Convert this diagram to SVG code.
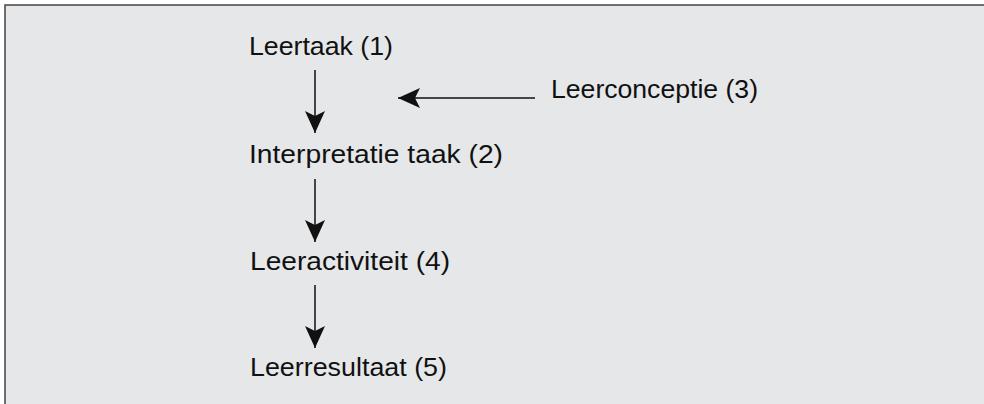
<svg xmlns="http://www.w3.org/2000/svg" width="984" height="404" viewBox="0 0 984 404">
<style>
.lbl{font-family:"Liberation Sans",Arial,sans-serif;font-size:26px;fill:#111}
.conn line{stroke:#111;stroke-width:1.5}
</style>
<defs>
<marker id="ah" viewBox="0 0 22 20" refX="22" refY="10" markerWidth="22" markerHeight="20" markerUnits="userSpaceOnUse" orient="auto">
<path d="M0,0 L22,10 L0,20 L5,10 Z" fill="#111"/>
</marker>
</defs>
<rect x="0" y="0" width="984" height="404" fill="#ffffff"/>
<rect x="5" y="5" width="990" height="410" fill="#e6e7e9" stroke="#444" stroke-width="1.5"/>
<g id="n1"><text class="lbl" x="249" y="55" textLength="144" lengthAdjust="spacingAndGlyphs">Leertaak (1)</text></g>
<g id="n2"><text class="lbl" x="249" y="163" textLength="254" lengthAdjust="spacingAndGlyphs">Interpretatie taak (2)</text></g>
<g id="n3"><text class="lbl" x="551" y="98" textLength="207" lengthAdjust="spacingAndGlyphs">Leerconceptie (3)</text></g>
<g id="n4"><text class="lbl" x="250" y="270" textLength="200" lengthAdjust="spacingAndGlyphs">Leeractiviteit (4)</text></g>
<g id="n5"><text class="lbl" x="250" y="376" textLength="197" lengthAdjust="spacingAndGlyphs">Leerresultaat (5)</text></g>
<g id="connectors" class="conn">
<line x1="315" y1="70" x2="315" y2="133" marker-end="url(#ah)"/>
<line x1="315" y1="179" x2="315" y2="242" marker-end="url(#ah)"/>
<line x1="315" y1="285" x2="315" y2="348" marker-end="url(#ah)"/>
<line x1="535" y1="98" x2="398" y2="98" marker-end="url(#ah)"/>
</g>
</svg>
